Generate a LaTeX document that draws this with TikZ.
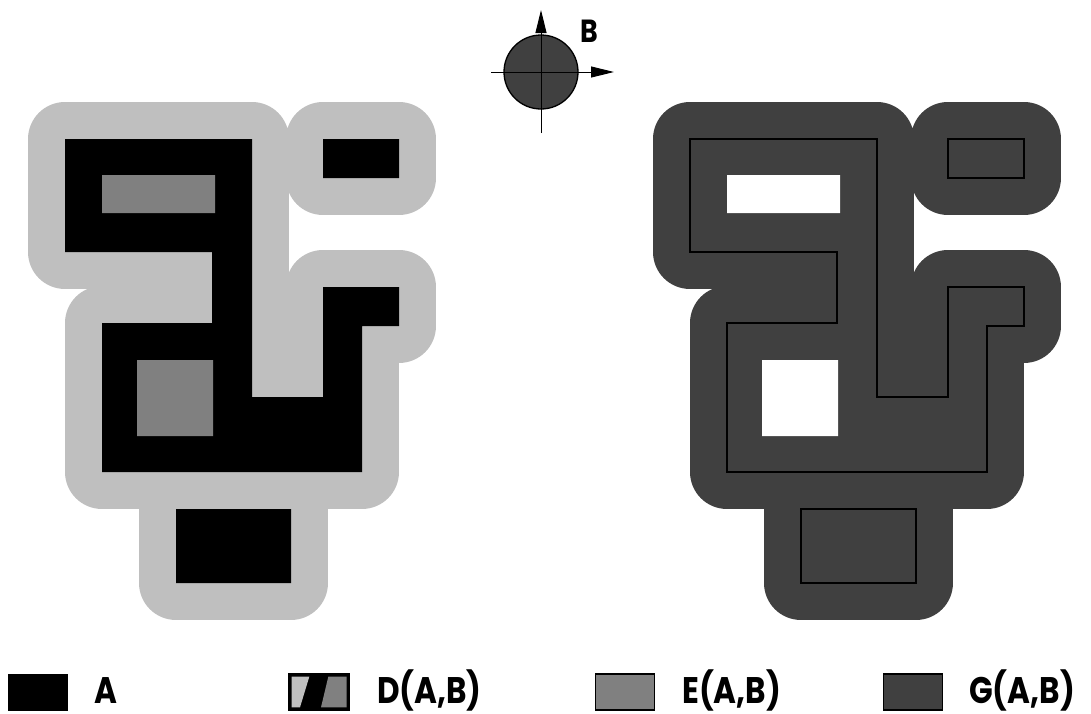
\documentclass[tikz,border=0pt]{standalone}
\usepackage{fontspec}
\usepackage{tikz}
\usetikzlibrary{arrows.meta}
\newfontfamily\lblfont{Poppins}[FakeStretch=0.84]
\definecolor{dilGray}{HTML}{BFBFBF}
\definecolor{eroGray}{HTML}{808080}
\definecolor{gradGray}{HTML}{404040}
\tikzset{
  dilate/.style={line width=74pt, line join=round},
  legbox/.style={
    rectangle, draw=black, line width=1.5pt,
    minimum width=59pt, minimum height=36pt, inner sep=0pt
  },
  legtext/.style={anchor=base west, inner sep=0pt,
    font=\lblfont\bfseries\fontsize{37}{40}\selectfont},
  axis/.style={line width=1pt, -{Triangle[length=23pt,width=11pt]}}
}
% pieces of A, in pixel units (y downward)
\newcommand{\partMain}{(65,139) -- (252,139) -- (252,397) -- (323,397) -- (323,287) -- (399,287) -- (399,326) -- (362,326) -- (362,472) -- (102,472) -- (102,323) -- (212,323) -- (212,252) -- (65,252) -- cycle}
\newcommand{\partTop}{(323,139) rectangle (399,178)}
\newcommand{\partFoot}{(176,509) rectangle (291,583)}
\newcommand{\holeUp}{(102,175) rectangle (215,213)}
\newcommand{\holeLow}{(137,360) rectangle (213,436)}
\begin{document}
\begin{tikzpicture}[x=1pt,y=-1pt]
  \useasboundingbox (0,0) rectangle (1091,713);

  % left: A, its dilation and erosion
  \path[fill=dilGray, draw=dilGray, dilate] \partMain \partTop \partFoot;
  \fill[black] \partMain \partTop \partFoot;
  \fill[eroGray] \holeUp \holeLow;

  % right: gradient, outline of A on top
  \begin{scope}[xshift=625pt]
    \path[fill=gradGray, draw=gradGray, dilate] \partMain \partTop \partFoot;
    \fill[white] \holeUp \holeLow;
    \draw[line width=1.3pt] \partMain \partTop \partFoot;
  \end{scope}

  % structuring element B
  \node[circle, draw=black, line width=1.3pt, fill=gradGray,
        minimum size=74pt, inner sep=0pt] (disk) at (541,72) {};
  \coordinate (ybot) at (541,133);
  \coordinate (ytop) at (541,10);
  \coordinate (xleft) at (491,72);
  \coordinate (xright) at (614,72);
  \draw[axis] (ybot) -- (ytop);
  \draw[axis] (xleft) -- (xright);
  \node[legtext, font=\lblfont\bfseries\fontsize{32}{34}\selectfont] (labB) at (580,42) {B};

  % legend
  \node[legbox, fill=black, line width=0.6pt] (boxA) at (38,692) {};
  \node[legbox, fill=black, line width=2.5pt] (boxD) at (319,692) {};
  \fill[dilGray] (291.7,676.7) -- (309.3,676.7) -- (300,707.3) -- (291.7,707.3) -- cycle;
  \fill[eroGray] (328.3,676.7) -- (346.7,676.7) -- (346.7,707.3) -- (321,707.3) -- cycle;
  \node[legbox, fill=eroGray] (boxE) at (625,692) {};
  \node[legbox, fill=gradGray] (boxG) at (913,692) {};

  \node[legtext] (labA) at (94,703) {A};
  \node[legtext] (labD) at (377,703) {D(A,B)};
  \node[legtext] (labE) at (682,703) {E(A,B)};
  \node[legtext] (labG) at (969,703) {G(A,B)};
\end{tikzpicture}
\end{document}
